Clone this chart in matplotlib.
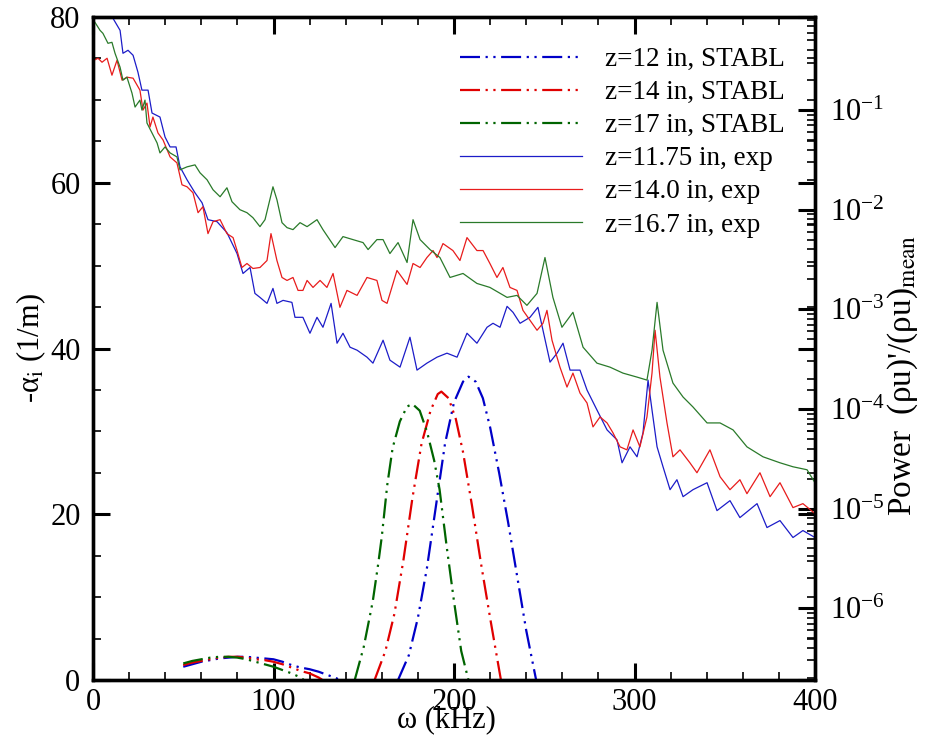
import numpy as np
import matplotlib
matplotlib.use('Agg')
import matplotlib.pyplot as plt
from matplotlib.ticker import MultipleLocator, LogLocator, NullFormatter

plt.rcParams['font.family'] = ['Liberation Serif', 'DejaVu Serif']
plt.rcParams['mathtext.fontset'] = 'stix'

# STABL growth rates -alpha_i (1/m): low-frequency hump, then the main lobe
b_lo_x = [50, 55, 60, 65, 70, 75, 80, 85, 90, 95, 100, 105, 110, 115, 120, 125, 130, 135, 138]
b_lo_y = [1.6, 1.9, 2.2, 2.4, 2.6, 2.7, 2.8, 2.8, 2.7, 2.6, 2.5, 2.2, 1.8, 1.5, 1.3, 1.0, 0.6, 0.2, -0.2]
b_hi_x = [169, 175, 180, 185, 190, 195, 200, 205, 208, 212, 216, 220, 225, 230, 235, 240, 245.5]
b_hi_y = [0, 3, 7.5, 13.5, 21, 28.5, 33.5, 36, 36.6, 36, 34, 30.5, 25, 19, 12.5, 6, 0]

r_lo_x = [50, 55, 60, 65, 70, 75, 80, 85, 90, 95, 100, 105, 110, 115, 120, 125, 128]
r_lo_y = [1.8, 2.1, 2.3, 2.5, 2.7, 2.8, 2.8, 2.7, 2.5, 2.4, 2.2, 1.9, 1.5, 1.1, 0.8, 0.3, -0.1]
r_hi_x = [156, 162, 167, 172, 177, 182, 187, 191, 193, 197, 201, 205, 210, 215, 220, 226]
r_hi_y = [0, 3.5, 8, 14.5, 22, 28.5, 32.5, 34.5, 34.8, 34, 31.5, 27.5, 21, 14, 7.5, 0]

g_lo_x = [50, 55, 60, 65, 70, 75, 80, 85, 90, 95, 100, 105, 110, 115, 118]
g_lo_y = [2.0, 2.3, 2.5, 2.7, 2.8, 2.8, 2.7, 2.5, 2.2, 1.9, 1.6, 1.2, 0.8, 0.3, -0.2]
g_hi_x = [145, 150, 155, 158, 160, 163, 166, 170, 174, 177, 181, 185, 189, 192, 196, 200, 204, 208]
g_hi_y = [0, 4, 9.5, 14, 17.3, 23.5, 28, 31.2, 33, 33.3, 32.5, 30, 26.5, 23, 16, 9.5, 3.5, 0]

# measured spectra, log10 of (rho u)'/(rho u)_mean
b_exp_x = [0, 1.7, 3.9, 6.6, 9.4, 11.1, 15.0, 16.6, 19.4, 22.2, 24.9, 27.1, 30.5, 32.7, 37.1, 39.9,
           42.7, 46.0, 48.2, 52.1, 56.5, 60.4, 63.7, 68.7, 74.2, 79.8, 83.1, 87.0, 89.7, 92.5, 96.4,
           99.7, 101.9, 105.3, 110.2, 111.9, 116.3, 120.2, 124.1, 127.4, 131.9, 135.2, 138.5, 142.4,
           146.3, 151.8, 155.1, 160.7, 164.5, 170.1, 175.6, 179.5, 185.0, 190.6, 196.1, 201.7, 207.2,
           212.7, 218.3, 221.6, 225.5, 229.4, 232.7, 236.6, 242.1, 246.5, 249.3, 253.2, 257.1, 260.4,
           264.3, 269.8, 273.7, 279.2, 284.8, 290.3, 293.1, 297.5, 301.4, 304.7, 307.5, 309.7, 312.5,
           315.8, 319.7, 323.5, 326.9, 332.4, 340.2, 345.7, 352.9, 358.4, 367.9, 373.4, 380.6, 387.8,
           393.3, 400]
b_exp_p = [-0.15, -0.02, 0.10, 0.15, 0.05, -0.08, -0.20, -0.43, -0.40, -0.45, -0.62, -0.80, -0.80,
           -1.03, -1.07, -1.27, -1.37, -1.37, -1.57, -1.70, -1.83, -1.93, -2.10, -2.12, -2.23, -2.44,
           -2.64, -2.58, -2.84, -2.88, -2.94, -2.79, -2.94, -2.91, -2.93, -3.08, -3.08, -3.24, -3.08,
           -3.18, -2.94, -3.34, -3.24, -3.38, -3.41, -3.48, -3.54, -3.31, -3.51, -3.58, -3.28, -3.61,
           -3.54, -3.48, -3.44, -3.48, -3.24, -3.34, -3.18, -3.14, -3.18, -2.97, -3.03, -3.14, -3.08,
           -2.98, -3.21, -3.53, -3.44, -3.34, -3.61, -3.61, -3.81, -4.01, -4.21, -4.31, -4.54, -4.38,
           -4.48, -4.24, -3.71, -4.01, -4.38, -4.58, -4.81, -4.71, -4.88, -4.81, -4.74, -5.02, -4.92,
           -5.09, -4.95, -5.19, -5.12, -5.29, -5.22, -5.29]

r_exp_x = [0, 0.6, 2.8, 5.0, 7.8, 10.5, 13.3, 16.1, 18.8, 22.2, 26.0, 27.7, 29.9, 31.6, 33.2, 36.0,
           38.8, 42.7, 46.5, 49.3, 52.1, 55.4, 58.2, 60.9, 63.7, 66.5, 70.4, 74.2, 77.6, 79.8, 82.5,
           85.3, 88.6, 92.5, 96.4, 98.6, 101.9, 104.7, 107.5, 110.8, 113.6, 116.3, 118.6, 121.9, 125.8,
           129.6, 133.0, 136.8, 140.7, 146.3, 151.8, 157.3, 160.1, 162.9, 168.4, 174.0, 177.3, 181.2,
           185.0, 188.4, 190.6, 193.9, 199.4, 203.3, 207.2, 212.7, 216.1, 219.9, 223.8, 227.1, 231.0,
           234.9, 238.2, 242.1, 246.0, 249.3, 251.5, 254.3, 258.7, 262.6, 265.9, 269.8, 273.7, 277.0,
           280.9, 284.8, 288.1, 292.0, 295.8, 299.2, 303.0, 306.9, 309.7, 311.4, 314.1, 318.0, 321.3,
           325.2, 330.7, 334.6, 341.8, 347.4, 352.9, 358.4, 362.3, 369.5, 375.1, 380.6, 387.8, 393.3, 400]
r_exp_p = [-0.67, -0.50, -0.48, -0.52, -0.48, -0.65, -0.50, -0.70, -0.67, -0.68, -0.80, -1.00, -0.93,
           -1.17, -1.07, -1.23, -1.30, -1.47, -1.53, -1.75, -1.77, -1.83, -2.03, -1.97, -2.24, -2.12,
           -2.10, -2.24, -2.28, -2.41, -2.58, -2.54, -2.59, -2.58, -2.51, -2.24, -2.51, -2.68, -2.71,
           -2.68, -2.81, -2.81, -2.71, -2.78, -2.71, -2.78, -2.64, -2.98, -2.81, -2.86, -2.68, -2.71,
           -2.91, -2.94, -2.61, -2.75, -2.54, -2.58, -2.48, -2.41, -2.48, -2.34, -2.41, -2.51, -2.28,
           -2.41, -2.41, -2.54, -2.68, -2.58, -2.78, -2.81, -3.01, -3.11, -3.21, -3.14, -3.01, -3.31,
           -3.58, -3.78, -3.64, -3.84, -3.94, -4.18, -4.08, -4.14, -4.24, -4.38, -4.41, -4.21, -4.38,
           -4.08, -3.64, -3.21, -3.68, -4.14, -4.48, -4.41, -4.54, -4.64, -4.41, -4.68, -4.81, -4.71,
           -4.85, -4.64, -4.88, -4.74, -4.99, -4.95, -5.05]

g_exp_x = [0, 1.1, 3.9, 5.5, 8.3, 10.5, 12.2, 15.0, 16.6, 18.8, 21.6, 23.3, 26.0, 27.1, 28.8, 29.9,
           32.7, 35.5, 37.1, 39.9, 42.7, 46.5, 48.2, 52.1, 56.5, 59.3, 63.2, 66.5, 70.4, 74.2, 77.0,
           81.4, 85.3, 88.6, 92.5, 95.3, 99.7, 101.9, 104.7, 107.5, 110.8, 114.7, 118.6, 124.1, 127.4,
           134.1, 138.5, 144.0, 149.6, 152.4, 157.3, 160.7, 164.5, 169.0, 174.0, 177.3, 181.2, 186.7,
           192.2, 197.8, 205.0, 212.7, 219.9, 229.4, 234.9, 240.4, 246.0, 250.4, 254.8, 259.8, 265.9,
           271.5, 279.2, 286.4, 293.6, 301.4, 306.9, 309.7, 312.5, 315.8, 321.3, 326.9, 332.4, 340.2,
           347.4, 354.6, 362.3, 371.2, 380.6, 387.8, 395.6, 400]
g_exp_p = [-0.10, -0.12, -0.20, -0.23, -0.33, -0.32, -0.43, -0.57, -0.70, -0.67, -0.83, -0.97, -0.90,
           -1.00, -0.90, -1.13, -1.23, -1.33, -1.43, -1.37, -1.43, -1.47, -1.60, -1.57, -1.55, -1.63,
           -1.70, -1.80, -1.87, -1.78, -1.92, -2.00, -2.03, -2.08, -2.17, -2.10, -1.77, -1.90, -2.13,
           -2.18, -2.20, -2.13, -2.17, -2.10, -2.20, -2.38, -2.27, -2.30, -2.33, -2.40, -2.30, -2.30,
           -2.44, -2.33, -2.53, -2.10, -2.30, -2.40, -2.48, -2.68, -2.64, -2.74, -2.78, -2.88, -2.86,
           -2.96, -2.84, -2.48, -2.88, -3.18, -3.03, -3.38, -3.54, -3.58, -3.64, -3.68, -3.71, -3.41,
           -2.93, -3.41, -3.74, -3.88, -3.98, -4.14, -4.14, -4.21, -4.38, -4.48, -4.54, -4.58, -4.61,
           -4.74]

stabl_labels = ['z=12 in, STABL', 'z=14 in, STABL', 'z=17 in, STABL']
exp_labels = ['z=11.75 in, exp', 'z=14.0 in, exp', 'z=16.7 in, exp']
colors = ['#0000c8', '#e00000', '#006400']
exp_colors = ['#1c1cc8', '#e81c1c', '#2a7a2a']
dashdotdot = (0, (9, 2.5, 1, 2.5, 1, 2.5))


def join(lo_x, lo_y, hi_x, hi_y):
    # the rate is negative (damped) between the two lobes, leave that gap open
    return (np.r_[lo_x, np.nan, hi_x], np.r_[lo_y, np.nan, hi_y])


fig = plt.figure(figsize=(9.26, 7.48), dpi=100)
ax = fig.add_axes([93 / 926, 68 / 748, 722 / 926, 663 / 748])
ax2 = ax.twinx()

handles = []
for (lx, ly, hx, hy), c, lab in zip(
        [(b_lo_x, b_lo_y, b_hi_x, b_hi_y), (r_lo_x, r_lo_y, r_hi_x, r_hi_y),
         (g_lo_x, g_lo_y, g_hi_x, g_hi_y)], colors, stabl_labels):
    x, y = join(lx, ly, hx, hy)
    h, = ax.plot(x, y, color=c, lw=1.6, ls=dashdotdot, label=lab)
    handles.append(h)

for x, p, c, lab in zip([b_exp_x, r_exp_x, g_exp_x], [b_exp_p, r_exp_p, g_exp_p],
                        exp_colors, exp_labels):
    h, = ax2.plot(x, 10.0 ** np.array(p), color=c, lw=0.9, label=lab)
    handles.append(h)

ax.set_xlim(0, 400)
ax.set_ylim(0, 80)
ax2.set_yscale('log')
ax2.set_ylim(10 ** -6.72, 10 ** -0.066)

ax.xaxis.set_major_locator(MultipleLocator(100))
ax.xaxis.set_minor_locator(MultipleLocator(20))
ax.yaxis.set_major_locator(MultipleLocator(20))
ax.yaxis.set_minor_locator(MultipleLocator(5))
ax2.yaxis.set_major_locator(LogLocator(base=10, numticks=20))
ax2.yaxis.set_minor_locator(LogLocator(base=10, subs=np.arange(2, 10), numticks=20))
ax2.yaxis.set_minor_formatter(NullFormatter())

ax.tick_params(which='both', direction='in', top=True, right=True, labelsize=22)
ax.tick_params(which='major', length=12, width=2.2)
ax.tick_params(which='minor', length=6, width=1.2)
ax.tick_params(axis='x', pad=6)
ax.tick_params(axis='y', pad=9)
ax2.tick_params(which='both', direction='in', labelsize=22, pad=11)
ax2.tick_params(which='major', length=12, width=2.2)
ax2.tick_params(which='minor', length=6, width=1.2)

for a in (ax, ax2):
    for s in a.spines.values():
        s.set_linewidth(2.4)

ax.set_xlabel('ω (kHz)', fontsize=22)
ax.xaxis.set_label_coords(0.49, -0.038)
ax.set_ylabel('-α$_{\\mathrm{i}}$ (1/m)', fontsize=22)
ax.yaxis.set_label_coords(-0.062, 0.5)
ax2.set_ylabel("Power  (ρu)'/(ρu)$_{\\mathrm{mean}}$", fontsize=24)
ax2.yaxis.set_label_coords(1.098, 0.46)

fig.legend(handles=handles, loc='upper left', bbox_to_anchor=(460 / 926, 1 - 47 / 748),
           frameon=False, fontsize=19.5, handlelength=4.5, handletextpad=0.85,
           labelspacing=0.3, borderpad=0, borderaxespad=0)

fig.savefig('out.png', dpi=100)
plt.close(fig)
